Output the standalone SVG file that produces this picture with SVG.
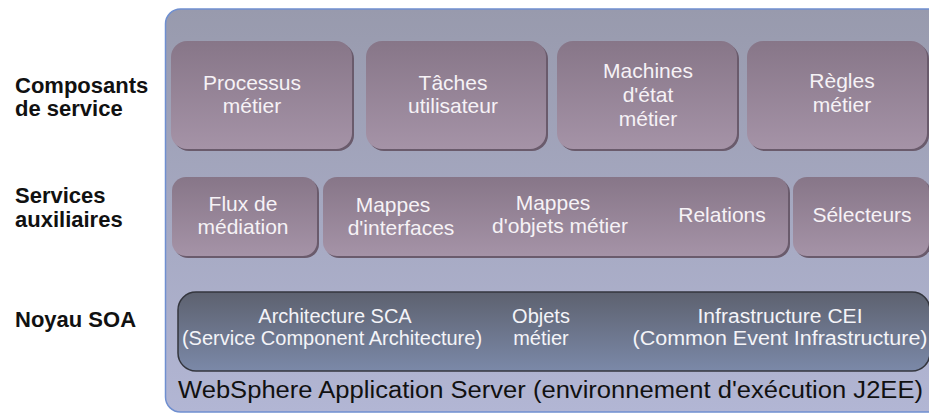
<svg xmlns="http://www.w3.org/2000/svg" width="929" height="414" viewBox="0 0 929 414">
  <defs>
    <linearGradient id="gOuter" x1="0" y1="0" x2="0" y2="1">
      <stop offset="0" stop-color="#989aad"/>
      <stop offset="1" stop-color="#b2b6d4"/>
    </linearGradient>
    <linearGradient id="gBox" x1="0" y1="0" x2="0" y2="1">
      <stop offset="0" stop-color="#877688"/>
      <stop offset="1" stop-color="#a593a7"/>
    </linearGradient>
    <linearGradient id="gCore" x1="0" y1="0" x2="0" y2="1">
      <stop offset="0" stop-color="#5d616f"/>
      <stop offset="1" stop-color="#7b89a8"/>
    </linearGradient>
  </defs>
  <style>
    .lbl { font-family: "Liberation Sans", Arial, sans-serif; font-weight: bold; font-size: 22px; fill: #111; }
    .bx { font-family: "Liberation Sans", Arial, sans-serif; font-size: 21px; fill: #f6f2f6; text-anchor: middle; }
    .cx { font-family: "Liberation Sans", Arial, sans-serif; font-size: 20px; fill: #f4f4f8; text-anchor: middle; }
    .shadow { fill: #6a5b6c; }
    .box { fill: url(#gBox); }
    .ws { font-family: "Liberation Sans", Arial, sans-serif; font-size: 23px; fill: #111; }
  </style>

  <g id="labels">
    <text class="lbl" x="15" y="93">Composants</text>
    <text class="lbl" x="15" y="116">de service</text>
    <text class="lbl" x="15" y="203">Services</text>
    <text class="lbl" x="15" y="227">auxiliaires</text>
    <text class="lbl" x="15" y="327">Noyau SOA</text>
  </g>

  <g id="server">
    <rect x="165.5" y="9" width="790" height="403" rx="15" fill="url(#gOuter)" stroke="#6f8fd0" stroke-width="1.5"/>
    <text class="ws" x="178" y="398" textLength="745" lengthAdjust="spacingAndGlyphs">WebSphere Application Server (environnement d'exécution J2EE)</text>
  </g>

  <g id="connectors"></g>

  <g id="processus">
    <rect class="shadow" x="173" y="43" width="181" height="108" rx="16"/>
    <rect class="box" x="171" y="41" width="181" height="108" rx="16"/>
    <text class="bx" x="252" y="90">Processus</text>
    <text class="bx" x="252" y="113">métier</text>
  </g>
  <g id="taches">
    <rect class="shadow" x="368" y="43" width="180" height="108" rx="16"/>
    <rect class="box" x="366" y="41" width="180" height="108" rx="16"/>
    <text class="bx" x="453" y="90">Tâches</text>
    <text class="bx" x="453" y="113">utilisateur</text>
  </g>
  <g id="machines">
    <rect class="shadow" x="559" y="43" width="180" height="108" rx="16"/>
    <rect class="box" x="557" y="41" width="180" height="108" rx="16"/>
    <text class="bx" x="648" y="78">Machines</text>
    <text class="bx" x="648" y="102">d'état</text>
    <text class="bx" x="648" y="126">métier</text>
  </g>
  <g id="regles">
    <rect class="shadow" x="749" y="43" width="180" height="108" rx="16"/>
    <rect class="box" x="747" y="41" width="180" height="108" rx="16"/>
    <text class="bx" x="842" y="88">Règles</text>
    <text class="bx" x="842" y="112">métier</text>
  </g>

  <g id="flux">
    <rect class="shadow" x="174" y="179" width="145" height="79" rx="14"/>
    <rect class="box" x="172" y="177" width="145" height="79" rx="14"/>
    <text class="bx" x="243" y="211">Flux de</text>
    <text class="bx" x="243" y="234">médiation</text>
  </g>
  <g id="mappes">
    <rect class="shadow" x="325" y="179" width="465" height="79" rx="14"/>
    <rect class="box" x="323" y="177" width="465" height="79" rx="14"/>
    <text class="bx" x="393" y="212">Mappes</text>
    <text class="bx" x="401" y="235">d'interfaces</text>
    <text class="bx" x="553" y="210">Mappes</text>
    <text class="bx" x="560" y="233">d'objets métier</text>
    <text class="bx" x="722" y="222">Relations</text>
  </g>
  <g id="selecteurs">
    <rect class="shadow" x="795" y="179" width="136" height="79" rx="14"/>
    <rect class="box" x="793" y="177" width="136" height="79" rx="14"/>
    <text class="bx" x="862" y="222">Sélecteurs</text>
  </g>

  <g id="noyau">
    <rect x="178" y="292" width="752" height="79" rx="18" fill="url(#gCore)" stroke="#34363e" stroke-width="1.5"/>
    <text class="cx" x="335" y="323">Architecture SCA</text>
    <text class="cx" x="332" y="345">(Service Component Architecture)</text>
    <text class="cx" x="541" y="323">Objets</text>
    <text class="cx" x="541" y="345">métier</text>
    <text class="cx" x="780" y="323" textLength="165" lengthAdjust="spacingAndGlyphs">Infrastructure CEI</text>
    <text class="cx" x="780" y="345" textLength="295" lengthAdjust="spacingAndGlyphs">(Common Event Infrastructure)</text>
  </g>
</svg>
